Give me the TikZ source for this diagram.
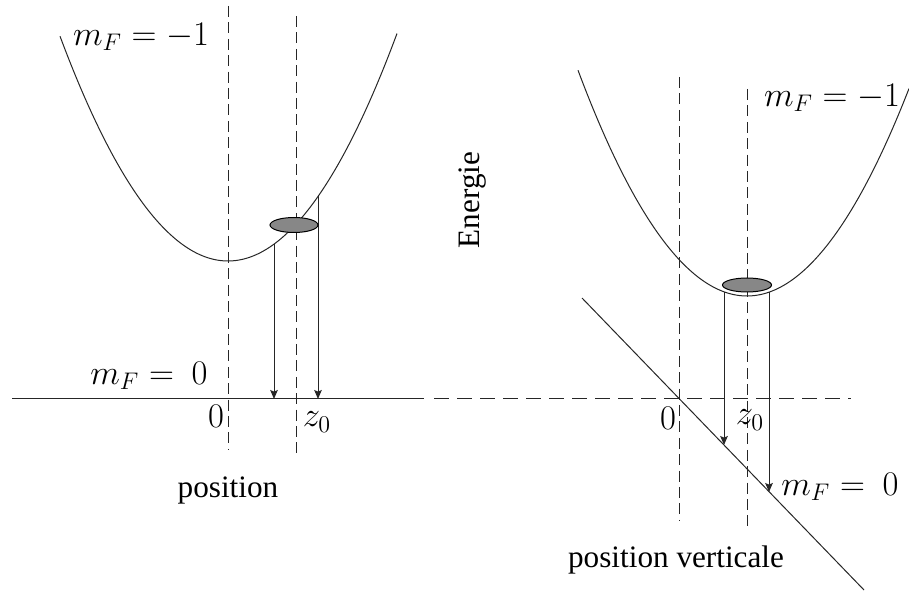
\documentclass[tikz,border=0pt]{standalone}
\usepackage[no-math]{fontspec}
\setmainfont{Liberation Serif}
\usetikzlibrary{arrows.meta,shapes.geometric}
\tikzset{
  lbl/.style={font=\fontsize{15.6}{18}\selectfont, inner sep=0pt},
  mlbl/.style={font=\fontsize{16.5}{19}\selectfont, inner sep=0pt},
  curve/.style={line width=0.5pt, black!85},
  vdash/.style={line width=0.5pt, black!85, dash pattern=on 5.5pt off 2.7pt},
  hdash/.style={line width=0.5pt, black!85, dash pattern=on 7.5pt off 4pt},
  drop/.style={line width=0.5pt, black!85, -{Stealth[length=4.5pt,width=3.8pt,inset=0.8pt]}},
  atom/.style={ellipse, draw, line width=0.5pt, fill=black!47, inner sep=0pt},
}
\begin{document}
\begin{tikzpicture}[x=0.5pt,y=-0.5pt]
\useasboundingbox (0,0) rectangle (909,592);
% ---------- left panel ----------
\draw[curve] plot[domain=60:397, samples=120, smooth] (\x, {261-0.00797*(\x-228)*(\x-228)});
\coordinate (l0top) at (228,6);   \coordinate (l0bot) at (228,449);
\coordinate (lztop) at (296,16);  \coordinate (lzbot) at (296,456);
\draw[vdash] (l0top) -- (l0bot);
\draw[vdash] (lztop) -- (lzbot);
\coordinate (axL) at (12,399); \coordinate (axM) at (424,399);
\coordinate (axD) at (434,399); \coordinate (axR) at (851,399);
\draw[line width=0.5pt, black!85] (axL) -- (axM);
\draw[hdash] (axD) -- (axR);
\coordinate (la1) at (274,244); \coordinate (lb1) at (274,399);
\coordinate (la2) at (318,196.5); \coordinate (lb2) at (318,399);
\draw[drop] (la1) -- (lb1);
\draw[drop] (la2) -- (lb2);
\node[atom, minimum width=24pt, minimum height=7.5pt] (atomL) at (294,225) {};
\node[mlbl] (mFm1L) at (141,37) {$m_F = -1$};
\node[mlbl] (mF0L) at (149,376) {$m_F = \ 0$};
\node[mlbl] (zeroL) at (216,416) {$0$};
\node[mlbl] (z0L) at (317,422) {$z_0$};
\node[lbl] (posL) at (228,490) {position};
% ---------- middle ----------
\node[lbl, rotate=90] (energie) at (473,200) {Energie};
% ---------- right panel ----------
\draw[curve] plot[domain=578:909, samples=120, smooth] (\x, {296-0.0079*(\x-747)*(\x-747)});
\coordinate (r0top) at (679,77);  \coordinate (r0bot) at (679,520);
\coordinate (rztop) at (747,89);  \coordinate (rzbot) at (747,530);
\draw[vdash] (r0top) -- (r0bot);
\draw[vdash] (rztop) -- (rzbot);
\coordinate (dgA) at (582,298); \coordinate (dgB) at (864,590);
\draw[curve] (dgA) -- (dgB);
\coordinate (ra1) at (724,292); \coordinate (rb1) at (724,445);
\coordinate (ra2) at (769,292); \coordinate (rb2) at (769,492);
\draw[drop] (ra1) -- (rb1);
\draw[drop] (ra2) -- (rb2);
\node[atom, minimum width=24.5pt, minimum height=7pt] (atomR) at (747,285) {};
\node[mlbl] (mFm1R) at (832,98) {$m_F = -1$};
\node[mlbl] (mF0R) at (840,487) {$m_F = \ 0$};
\node[mlbl] (zeroR) at (668,418) {$0$};
\node[mlbl] (z0R) at (750,420) {$z_0$};
\node[lbl] (posR) at (676,560) {position verticale};
\end{tikzpicture}
\end{document}
